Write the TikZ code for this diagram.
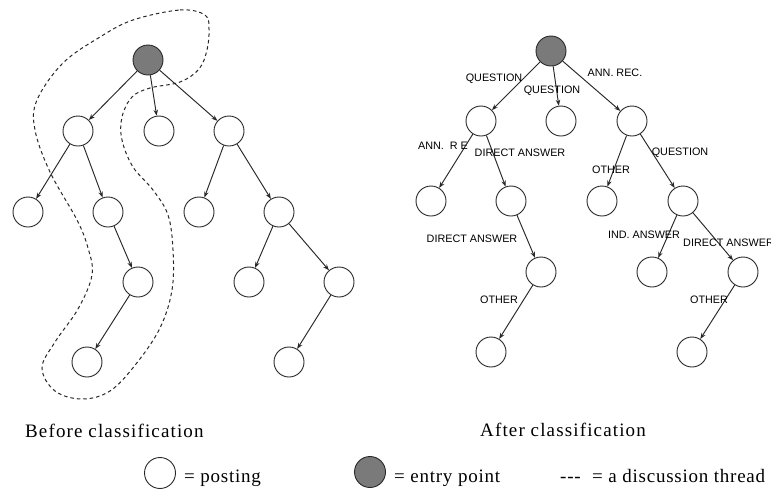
\documentclass[tikz,border=0pt]{standalone}
\usepackage{fontspec}
\setmainfont{Liberation Serif}
\newfontfamily\lblfont{Liberation Sans}
\usetikzlibrary{arrows.meta}
\definecolor{ink}{RGB}{40,40,40}
\definecolor{entry}{RGB}{122,122,122}
\tikzset{
  post/.style={circle, draw=ink, line width=0.9pt, fill=white, minimum size=30pt, inner sep=0pt},
  entrynode/.style={post, fill=entry},
  link/.style={draw=ink, line width=0.95pt, -{Stealth[length=6pt,width=4.5pt]}},
  tag/.style={font=\lblfont\fontsize{10.8}{12}\selectfont, inner sep=0pt, text=black},
  caption/.style={font=\addfontfeatures{LetterSpace=6}\fontsize{19}{22}\selectfont, inner sep=0pt, anchor=base west},
  legendtext/.style={font=\addfontfeatures{LetterSpace=4}\fontsize{19}{22}\selectfont, inner sep=0pt, anchor=base west},
  thread/.style={draw=ink, line width=1pt, dash pattern=on 3.5pt off 3pt}
}
\begin{document}
\begin{tikzpicture}[x=1pt,y=-1pt]
\useasboundingbox (0,0) rectangle (771,491);
\clip (0,0) rectangle (771,491);
\fill[white] (0,0) rectangle (771,491);

% ---------- tree before classification ----------
\node[entrynode] (r) at (148,60) {};
\node[post] (a) at (78,131) {};
\node[post] (b) at (159,131) {};
\node[post] (c) at (229,131) {};
\node[post] (a1) at (28,212) {};
\node[post] (a2) at (108,212) {};
\node[post] (c1) at (199,212) {};
\node[post] (c2) at (279,212) {};
\node[post] (a21) at (138,282) {};
\node[post] (c21) at (249,282) {};
\node[post] (c22) at (339,282) {};
\node[post] (a211) at (87,362) {};
\node[post] (c221) at (289,362) {};

\draw[link] (r) -- (a);
\draw[link] (r) -- (b);
\draw[link] (r) -- (c);
\draw[link] (a) -- (a1);
\draw[link] (a) -- (a2);
\draw[link] (a2) -- (a21);
\draw[link] (a21) -- (a211);
\draw[link] (c) -- (c1);
\draw[link] (c) -- (c2);
\draw[link] (c2) -- (c21);
\draw[link] (c2) -- (c22);
\draw[link] (c22) -- (c221);

% discussion thread outline
\draw[thread] plot[smooth cycle, tension=0.6] coordinates {
  (133,20) (180,10) (205,15) (209,29) (207,50) (199,69) (180,82) (150,88)
  (132,97) (122,117) (122,140) (133,167) (153,190) (168,215) (173,250)
  (172,290) (160,328) (136,364) (110,391) (82,399) (55,391) (42,368)
  (55,342) (78,309) (92,275) (88,248) (77,220) (50,172) (35,130) (37,100)
  (63,63) (100,37)};

% ---------- tree after classification ----------
\node[entrynode] (R) at (551,51) {};
\node[post] (A) at (481,121) {};
\node[post] (B) at (561,121) {};
\node[post] (C) at (632,121) {};
\node[post] (A1) at (431,201) {};
\node[post] (A2) at (511,201) {};
\node[post] (C1) at (602,201) {};
\node[post] (C2) at (683,201) {};
\node[post] (A21) at (541,272) {};
\node[post] (C21) at (652,272) {};
\node[post] (C22) at (743,272) {};
\node[post] (A211) at (491,352) {};
\node[post] (C221) at (692,352) {};

\draw[link] (R) -- (A);
\draw[link] (R) -- (B);
\draw[link] (R) -- (C);
\draw[link] (A) -- (A1);
\draw[link] (A) -- (A2);
\draw[link] (A2) -- (A21);
\draw[link] (A21) -- (A211);
\draw[link] (C) -- (C1);
\draw[link] (C) -- (C2);
\draw[link] (C2) -- (C21);
\draw[link] (C2) -- (C22);
\draw[link] (C22) -- (C221);

% edge labels
\node[tag] (l1) at (494,79) {QUESTION};
\node[tag] (l2) at (552,91) {QUESTION};
\node[tag] (l3) at (615,73) {ANN. REC.};
\node[tag] (l4) at (443,146) {ANN.\ \ R E};
\node[tag] (l5) at (520,153) {DIRECT ANSWER};
\node[tag] (l6) at (611,170) {OTHER};
\node[tag] (l7) at (680,153) {QUESTION};
\node[tag] (l8) at (472,239) {DIRECT ANSWER};
\node[tag] (l9) at (644,235) {IND. ANSWER};
\node[tag, anchor=west] (l10) at (683,243) {DIRECT ANSWER};
\node[tag] (l11) at (499,300) {OTHER};
\node[tag] (l12) at (709,300) {OTHER};

% ---------- captions ----------
\node[caption] (cap1) at (25,437) {Before classification};
\node[caption] (cap2) at (480,436) {After classification};

% ---------- legend ----------
\node[post, minimum size=31pt] (kpost) at (160,473) {};
\node[legendtext] (tpost) at (184,482) {= posting};
\node[entrynode, minimum size=31pt] (kentry) at (370,472) {};
\node[legendtext] (tentry) at (394,482) {= entry point};
\node[legendtext] (tdash) at (560,482) {{-}{-}{-}};
\node[legendtext] (tthread) at (592,482) {= a discussion thread};
\end{tikzpicture}
\end{document}
